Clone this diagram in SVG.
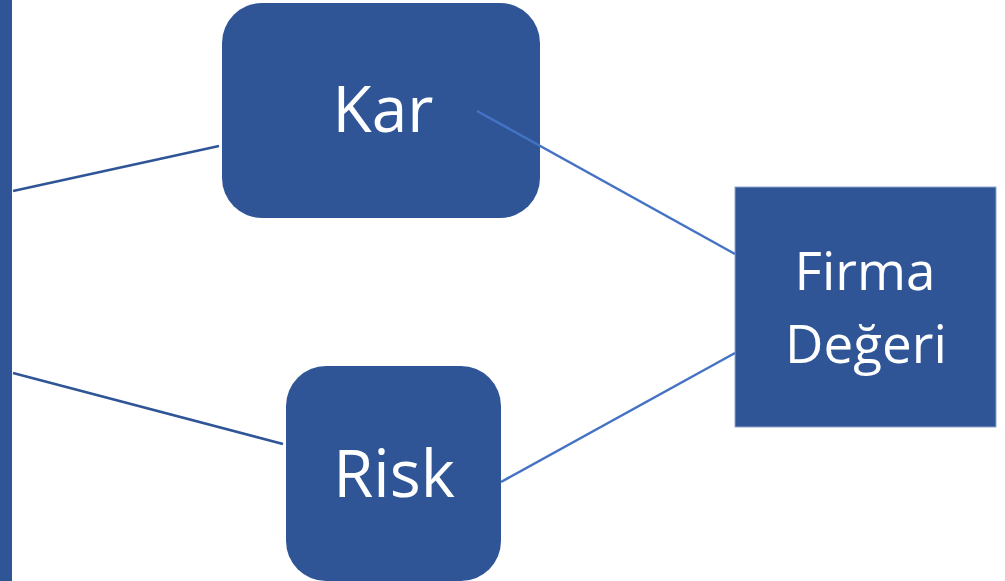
<svg xmlns="http://www.w3.org/2000/svg" width="1005" height="581" viewBox="0 0 1005 581">
<style>
.box{fill:#2F5597}
.lbl{fill:#fff;font-family:"Open Sans","Noto Sans",sans-serif;text-anchor:middle}
.dk{stroke:#2F5597;stroke-width:2.5;fill:none}
.lt{stroke:#4472C4;stroke-width:2.5;fill:none}
</style>
<rect width="1005" height="581" fill="#fff"/>
<g id="bar"><rect x="0" y="0" width="12" height="581" class="box"/></g>
<g id="kar"><rect x="222" y="3" width="318" height="215" rx="40" class="box"/><text x="383" y="132" class="lbl" font-size="64">Kar</text></g>
<g id="risk"><rect x="286" y="366" width="215" height="215" rx="40" class="box"/><text x="394" y="497" class="lbl" font-size="65">Risk</text></g>
<g id="firma"><rect x="735" y="187" width="261" height="240" class="box" stroke="#8FA5CF" stroke-width="1"/><text x="865" y="290" class="lbl" font-size="53">Firma</text><text x="866" y="363" class="lbl" font-size="53">Değeri</text></g>
<g id="connectors">
<line x1="13" y1="191" x2="219" y2="146" class="dk"/>
<line x1="13" y1="373" x2="283" y2="444" class="dk"/>
<line x1="477" y1="111" x2="735" y2="254" class="lt"/>
<line x1="501" y1="482" x2="735" y2="353" class="lt"/>
</g>
</svg>
